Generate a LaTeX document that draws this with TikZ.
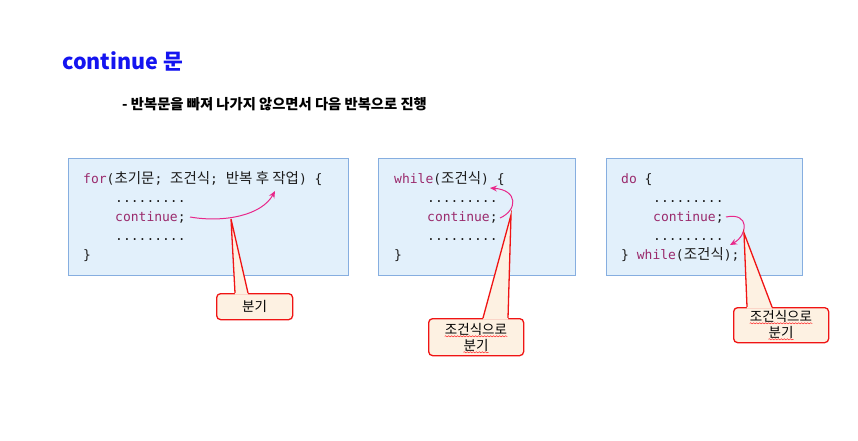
\documentclass[tikz,border=0pt]{standalone}
\usepackage{fontspec}
\usetikzlibrary{arrows.meta,decorations.pathmorphing}
\newfontfamily\kr{Noto Sans CJK KR}
\newfontfamily\cmono{DejaVu Sans Mono}
\definecolor{boxfill}{HTML}{E2F0FB}
\definecolor{boxline}{HTML}{86AEE0}
\definecolor{cream}{HTML}{FDF1E2}
\definecolor{callred}{HTML}{F01414}
\definecolor{jumpc}{HTML}{E8288A}
\definecolor{kw}{HTML}{9A2A6C}
\definecolor{codetext}{HTML}{1C1C1C}
\definecolor{titleblue}{HTML}{1414F0}
\newcommand{\K}[1]{{\kr\fontsize{14.5}{15}\selectfont #1}}
\begin{document}
\begin{tikzpicture}[x=1pt,y=-1pt,
  codebox/.style={draw=boxline, fill=boxfill, line width=1.3pt, anchor=north west, inner sep=0pt},
  codeline/.style={anchor=base west, inner sep=0pt, text=codetext, font=\cmono\fontsize{13}{15}\selectfont},
  callbox/.style={draw=callred, fill=cream, line width=1.3pt, rounded corners=4pt, anchor=north west, inner sep=0pt},
  calltext/.style={inner sep=0pt, font=\kr\fontsize{13.5}{16}\selectfont},
  wedge/.style={draw=callred, line width=1.3pt, line join=miter},
  jump/.style={draw=jumpc, line width=1pt, -{Stealth[length=7pt,width=6pt]}},
  squiggle/.style={draw=red!85, line width=0.5pt, decorate, decoration={snake, amplitude=0.6pt, segment length=3pt}}]
\useasboundingbox[fill=white] (0,0) rectangle (858,441);

% titles
\node[anchor=base west, inner sep=0pt, text=titleblue, font=\kr\bfseries\fontsize{21.5}{26}\selectfont] (title) at (62,70) {continue 문};
\node[anchor=base west, inner sep=0pt, font=\kr\bfseries\fontsize{14.3}{17}\selectfont] (sub) at (122,110) {- 반복문을 빠져 나가지 않으면서 다음 반복으로 진행};

% boxes
\node[codebox, minimum width=280pt, minimum height=117pt] (b1) at (68,158) {};
\node[codebox, minimum width=197pt, minimum height=117pt] (b2) at (378,158) {};
\node[codebox, minimum width=196pt, minimum height=117pt] (b3) at (606,158) {};

% box 1 code
\node[codeline] (l11) at (83,183) {{\color{kw}for}(\K{초기문}; \K{조건식}; \K{반복 후 작업}) \{};
\node[codeline] (l12) at (115,202) {.........};
\node[codeline] (l13) at (115,221) {{\color{kw}continue};};
\node[codeline] (l14) at (115,240) {.........};
\node[codeline] (l15) at (83,259) {\}};

% box 2 code
\node[codeline] (l21) at (394,183) {{\color{kw}while}(\K{조건식}) \{};
\node[codeline] (l22) at (427,202) {.........};
\node[codeline] (l23) at (427,221) {{\color{kw}continue};};
\node[codeline] (l24) at (427,240) {.........};
\node[codeline] (l25) at (394,259) {\}};

% box 3 code
\node[codeline] (l31) at (621,183) {{\color{kw}do} \{};
\node[codeline] (l32) at (653,202) {.........};
\node[codeline] (l33) at (653,221) {{\color{kw}continue};};
\node[codeline] (l34) at (653,240) {.........};
\node[codeline] (l35) at (621,259) {\} {\color{kw}while}(\K{조건식});};

% jump arrows
\coordinate (a1s) at (190,217);
\coordinate (a1e) at (275,191);
\coordinate (a2s) at (500,218);
\coordinate (a2e) at (490,188);
\coordinate (a3s) at (726,217);
\coordinate (a3e) at (730,245);
\draw[jump] (a1s) .. controls (225,223) and (262,215) .. (a1e);
\draw[jump] (a2s) .. controls (518,210) and (518,190) .. (a2e);
\draw[jump] (a3s) .. controls (750,212) and (748,235) .. (a3e);

% callout 1
\coordinate (t1) at (231,219);
\node[callbox, minimum width=76pt, minimum height=26pt] (c1) at (216,293) {};
\coordinate (c1l) at (235,293);
\coordinate (c1r) at (248,293);
\fill[cream] (t1) -- ([yshift=-1.5pt]c1l) -- ([yshift=-1.5pt]c1r) -- cycle;
\draw[wedge] (c1l) -- (t1) -- (c1r);
\node[calltext] (c1t) at (c1.center) {분기};

% callout 2
\coordinate (t2) at (511,215);
\node[callbox, minimum width=95pt, minimum height=37pt] (c2) at (428,318) {};
\coordinate (c2l) at (483,318);
\coordinate (c2r) at (508,318);
\fill[cream] (t2) -- ([yshift=-1.5pt]c2l) -- ([yshift=-1.5pt]c2r) -- cycle;
\draw[wedge] (c2l) -- (t2) -- (c2r);
\node[calltext] (c2a) at (476,329) {조건식으로};
\node[calltext] (c2b) at (476,345) {분기};
\draw[squiggle] ([yshift=-1pt]c2a.south west) -- ([yshift=-1pt]c2a.south east);
\draw[squiggle] ([yshift=-1pt]c2b.south west) -- ([yshift=-1pt]c2b.south east);

% callout 3
\coordinate (t3) at (744,233);
\node[callbox, minimum width=95pt, minimum height=35pt] (c3) at (733,307) {};
\coordinate (c3l) at (747,307);
\coordinate (c3r) at (772,307);
\fill[cream] (t3) -- ([yshift=-1.5pt]c3l) -- ([yshift=-1.5pt]c3r) -- cycle;
\draw[wedge] (c3l) -- (t3) -- (c3r);
\node[calltext] (c3a) at (781,316) {조건식으로};
\node[calltext] (c3b) at (781,332) {분기};
\draw[squiggle] ([yshift=-1pt]c3a.south west) -- ([yshift=-1pt]c3a.south east);
\draw[squiggle] ([yshift=-1pt]c3b.south west) -- ([yshift=-1pt]c3b.south east);
\end{tikzpicture}
\end{document}
